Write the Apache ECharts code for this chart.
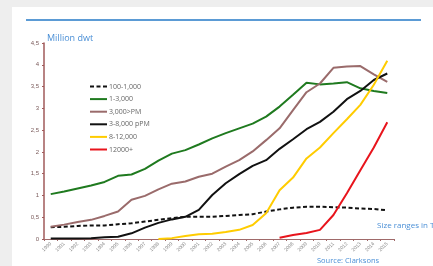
<!DOCTYPE html>
<html>
<head>
<meta charset="utf-8">
<script src="https://cdn.jsdelivr.net/npm/echarts@6/dist/echarts.min.js"></script>
<style>
html, body { margin: 0; padding: 0; background: #fff; }
#container { width: 433px; height: 266px; }
</style>
</head>
<body>
<div id="container"></div>
<script>
var years = ['1990', '1991', '1992', '1993', '1994', '1995', '1996', '1997', '1998', '1999',
    '2000', '2001', '2002', '2003', '2004', '2005', '2006', '2007', '2008', '2009',
    '2010', '2011', '2012', '2013', '2014', '2015'];
var size100 = [0.27, 0.28, 0.30, 0.31, 0.31, 0.34, 0.36, 0.40, 0.44, 0.48,
    0.51, 0.51, 0.51, 0.53, 0.55, 0.57, 0.63, 0.68, 0.72, 0.74,
    0.74, 0.73, 0.72, 0.70, 0.69, 0.66];
var size1k = [1.03, 1.09, 1.16, 1.23, 1.31, 1.45, 1.48, 1.61, 1.80, 1.96,
    2.04, 2.17, 2.31, 2.43, 2.54, 2.65, 2.81, 3.04, 3.31, 3.59,
    3.55, 3.57, 3.60, 3.46, 3.40, 3.35];
var size3kPM = [0.28, 0.33, 0.39, 0.44, 0.53, 0.63, 0.90, 0.99, 1.14, 1.27,
    1.32, 1.43, 1.50, 1.66, 1.81, 2.01, 2.27, 2.54, 2.96, 3.37,
    3.57, 3.93, 3.96, 3.97, 3.78, 3.61];
var size3k8k = [0.01, 0.01, 0.01, 0.02, 0.04, 0.05, 0.13, 0.26, 0.37, 0.45,
    0.51, 0.67, 1.01, 1.28, 1.49, 1.68, 1.81, 2.07, 2.29, 2.52,
    2.69, 2.92, 3.21, 3.40, 3.65, 3.80];
var size8k = [null, null, null, null, null, null, null, null, 0.00, 0.02,
    0.07, 0.11, 0.12, 0.16, 0.21, 0.32, 0.59, 1.12, 1.41, 1.85,
    2.10, 2.43, 2.75, 3.08, 3.54, 4.09];
var size12k = [null, null, null, null, null, null, null, null, null, null,
    null, null, null, null, null, null, null, 0.03, 0.09, 0.14,
    0.21, 0.55, 1.05, 1.58, 2.10, 2.68];
var seriesNames = ['100-1,000', '1-3,000', '3,000>PM', '3-8,000 pPM', '8-12,000', '12000+'];
var seriesColors = ['#111111', '#1f7a1f', '#9a6b6b', '#111111', '#ffcc00', '#e8141c'];
var seriesData = [size100, size1k, size3kPM, size3k8k, size8k, size12k];

var series = [];
for (var i = 0; i < seriesNames.length; i++) {
    series.push({
        name: seriesNames[i],
        type: 'line',
        data: seriesData[i],
        symbol: 'none',
        color: seriesColors[i],
        lineStyle: {
            width: 2,
            color: seriesColors[i],
            type: i == 0 ? [4, 2.5] : 'solid'
        }
    });
}

var myChart = echarts.init(document.getElementById('container'));
var option = {
    animation: false,
    backgroundColor: '#fff',
    grid: {
        left: 44,
        right: 39,
        top: 43,
        bottom: 27
    },
    title: {
        text: 'Million dwt',
        left: 42,
        top: 29,
        textStyle: {
            color: '#4a8fd6',
            fontSize: 9,
            fontWeight: 'normal',
            fontFamily: 'Open Sans'
        }
    },
    legend: {
        orient: 'vertical',
        left: 84,
        top: 78,
        itemWidth: 17,
        itemHeight: 7,
        itemGap: 5.6,
        data: seriesNames,
        itemStyle: { opacity: 0 },
        textStyle: {
            fontSize: 7,
            color: '#666',
            fontFamily: 'Open Sans',
            padding: [0, 0, 0, -3]
        }
    },
    xAxis: {
        type: 'category',
        data: years,
        boundaryGap: true,
        axisLine: { lineStyle: { color: '#a06a6a', width: 1 } },
        axisTick: { show: true, length: 2, lineStyle: { color: '#a06a6a' } },
        axisLabel: {
            rotate: 45,
            interval: 0,
            fontSize: 5,
            color: '#888',
            margin: 4
        }
    },
    yAxis: {
        type: 'value',
        min: 0,
        max: 4.5,
        interval: 0.5,
        splitLine: { show: false },
        axisLine: { show: true, lineStyle: { color: '#a05a5a', width: 1.5 } },
        axisTick: { show: true, length: 2, lineStyle: { color: '#a05a5a' } },
        axisLabel: {
            fontSize: 6,
            color: '#7a5a5a',
            margin: 5,
            formatter: function (value) {
                return String(value).replace('.', ',');
            }
        }
    },
    graphic: [
        { type: 'rect', shape: { x: 0, y: 0, width: 433, height: 7 }, style: { fill: '#eeeeee' } },
        { type: 'rect', shape: { x: 0, y: 0, width: 12, height: 266 }, style: { fill: '#eeeeee' } },
        { type: 'line', shape: { x1: 26, y1: 20, x2: 421, y2: 20 }, style: { stroke: '#5b9bd5', lineWidth: 2 } },
        { type: 'text', left: 377, top: 222, style: { text: 'Size ranges in TE', fill: '#4a8fd6', fontSize: 8, fontFamily: 'Open Sans' } },
        { type: 'text', left: 317, top: 257, style: { text: 'Source: Clarksons', fill: '#4a8fd6', fontSize: 7.5, fontFamily: 'Open Sans' } }
    ],
    series: series
};
myChart.setOption(option);
</script>
</body>
</html>
